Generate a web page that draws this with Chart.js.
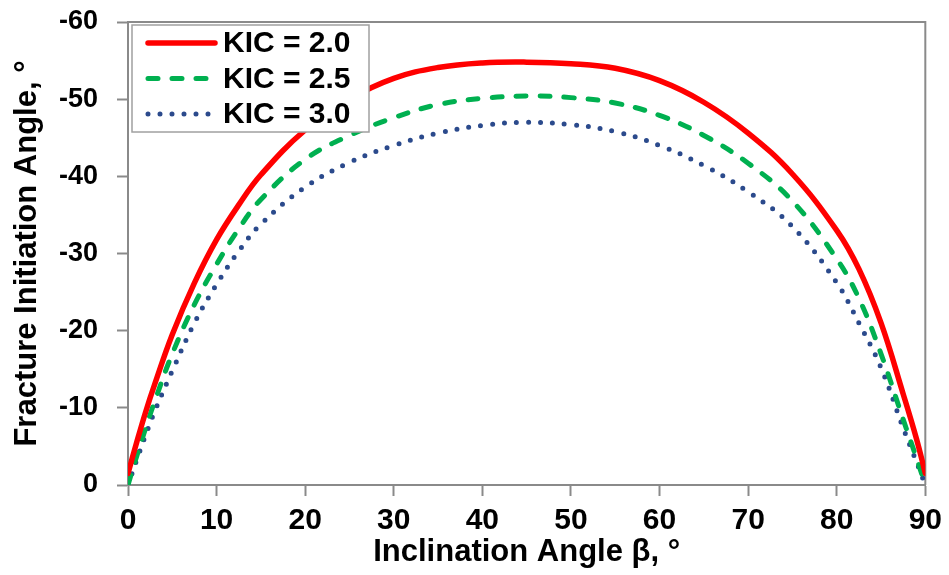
<!DOCTYPE html>
<html>
<head>
<meta charset="utf-8">
<script src="https://cdn.jsdelivr.net/npm/chart.js@4.4.1/dist/chart.umd.min.js"></script>
<style>
  html, body { margin: 0; padding: 0; background: #ffffff; }
  canvas { display: block; }
</style>
</head>
<body>
<canvas id="chart" width="949" height="575"></canvas>
<script>
// Inclination angle β (degrees) at which each curve is sampled
const inclination = [0, 1, 2, 3, 5, 7.5, 10, 12.5, 15, 20, 25, 30, 35, 40, 45, 50, 55, 60, 65, 70, 75, 80, 82.5, 85, 87.5, 89, 90];

// Fracture initiation angle (degrees) for each fracture toughness KIC
const kic20 = [-1.5, -5.6, -9.5, -13.0, -19.5, -26.2, -31.8, -36.3, -40.2, -46.0, -50.0, -52.7, -54.1, -54.7, -54.8, -54.6, -54.0, -52.4, -49.6, -45.6, -40.3, -33.0, -28.0, -21.0, -11.8, -6.0, -1.5];
const kic25 = [0, -3.8, -7.4, -10.8, -17.0, -23.4, -28.6, -33.2, -37.0, -42.2, -45.3, -47.6, -49.3, -50.1, -50.4, -50.2, -49.5, -47.9, -45.3, -41.7, -36.8, -29.3, -24.2, -17.0, -8.5, -3.5, 0];
const kic30 = [0, -3.3, -6.5, -9.5, -14.8, -21.0, -26.0, -30.3, -33.8, -38.6, -41.8, -44.0, -45.6, -46.6, -47.0, -46.7, -45.8, -44.0, -41.4, -38.0, -33.5, -26.2, -21.0, -15.2, -7.4, -3.0, 0];

const seriesLabels = ['KIC = 2.0', 'KIC = 2.5', 'KIC = 3.0'];
const xTickValues = [0, 10, 20, 30, 40, 50, 60, 70, 80, 90];
const yTickValues = [-60, -50, -40, -30, -20, -10, 0];

const AXIS_GRAY = '#8a8a8a';
const FONT = '"Liberation Sans", Arial, Helvetica, sans-serif';
Chart.defaults.font.family = FONT;
Chart.defaults.color = '#000000';

function points(values) {
  return inclination.map((b, i) => ({ x: b, y: values[i] }));
}

// Closes the plot frame on the top and right sides
const frame = {
  id: 'frame',
  beforeDatasetsDraw(chart) {
    const { ctx, chartArea: a } = chart;
    ctx.save();
    ctx.strokeStyle = AXIS_GRAY;
    ctx.lineWidth = 2;
    ctx.beginPath();
    ctx.moveTo(a.left, a.top);
    ctx.lineTo(a.right, a.top);
    ctx.lineTo(a.right, a.bottom);
    ctx.stroke();
    ctx.restore();
  }
};

// Boxed legend in the upper-left corner of the plot
const boxedLegend = {
  id: 'boxedLegend',
  afterDraw(chart) {
    const { ctx, chartArea: a } = chart;
    const x0 = a.left + 4, y0 = a.top + 3, w = 237, h = 107;
    ctx.save();
    ctx.fillStyle = '#ffffff';
    ctx.fillRect(x0, y0, w, h);
    ctx.strokeStyle = '#a0a0a0';
    ctx.lineWidth = 1.5;
    ctx.strokeRect(x0, y0, w, h);
    chart.data.datasets.forEach((ds, i) => {
      const cy = y0 + 18 + i * 35.5;
      ctx.beginPath();
      ctx.setLineDash(ds.borderDash || []);
      ctx.lineCap = ds.borderCapStyle || 'butt';
      ctx.strokeStyle = ds.borderColor;
      ctx.lineWidth = ds.borderWidth;
      ctx.moveTo(x0 + 16, cy);
      ctx.lineTo(x0 + 83, cy);
      ctx.stroke();
      ctx.setLineDash([]);
      ctx.fillStyle = '#000000';
      ctx.font = 'bold 30px ' + FONT;
      ctx.textBaseline = 'middle';
      ctx.textAlign = 'left';
      ctx.fillText(ds.label, x0 + 91, cy + 1);
    });
    ctx.restore();
  }
};

new Chart(document.getElementById('chart'), {
  type: 'line',
  data: {
    datasets: [
      {
        label: seriesLabels[0],
        data: points(kic20),
        borderColor: '#ff0000',
        borderWidth: 5.5,
        borderCapStyle: 'round'
      },
      {
        label: seriesLabels[1],
        data: points(kic25),
        borderColor: '#00b050',
        borderWidth: 5,
        borderDash: [10, 14],
        borderCapStyle: 'round'
      },
      {
        label: seriesLabels[2],
        data: points(kic30),
        borderColor: '#2b4a8c',
        borderWidth: 5,
        borderDash: [0, 12],
        borderCapStyle: 'round'
      }
    ]
  },
  options: {
    responsive: false,
    animation: false,
    devicePixelRatio: 1,
    layout: { padding: { top: 22, right: 22, left: 0, bottom: 0 } },
    elements: {
      point: { radius: 0 },
      line: { tension: 0.4, fill: false }
    },
    plugins: {
      legend: { display: false },
      tooltip: { enabled: false }
    },
    scales: {
      x: {
        type: 'linear',
        min: 0,
        max: 90,
        afterBuildTicks: s => { s.ticks = xTickValues.map(v => ({ value: v })); },
        afterFit: s => { s.height = 90; },
        grid: { drawOnChartArea: false, tickLength: 11, tickWidth: 2, tickColor: AXIS_GRAY },
        border: { color: AXIS_GRAY, width: 2 },
        ticks: {
          color: '#000000',
          font: { size: 30, weight: 'bold' },
          padding: 7,
          maxRotation: 0,
          autoSkip: false,
          callback: v => String(v)
        },
        title: {
          display: true,
          text: 'Inclination Angle β, °',
          color: '#000000',
          font: { size: 31, weight: 'bold' },
          padding: { top: 0, bottom: 4 }
        }
      },
      y: {
        type: 'linear',
        min: -60,
        max: 0,
        reverse: true,
        afterBuildTicks: s => { s.ticks = yTickValues.map(v => ({ value: v })); },
        afterFit: s => { s.width = 128; s.paddingTop = 0; s.paddingBottom = 0; },
        grid: { drawOnChartArea: false, tickLength: 11, tickWidth: 2, tickColor: AXIS_GRAY },
        border: { color: AXIS_GRAY, width: 2 },
        ticks: {
          color: '#000000',
          font: { size: 27, weight: 'bold' },
          padding: 19,
          autoSkip: false,
          callback: v => String(v)
        },
        title: {
          display: true,
          text: 'Fracture Initiation Angle, °',
          color: '#000000',
          font: { size: 31, weight: 'bold' },
          padding: { top: 9, bottom: 0 }
        }
      }
    }
  },
  plugins: [frame, boxedLegend]
});
</script>
</body>
</html>
